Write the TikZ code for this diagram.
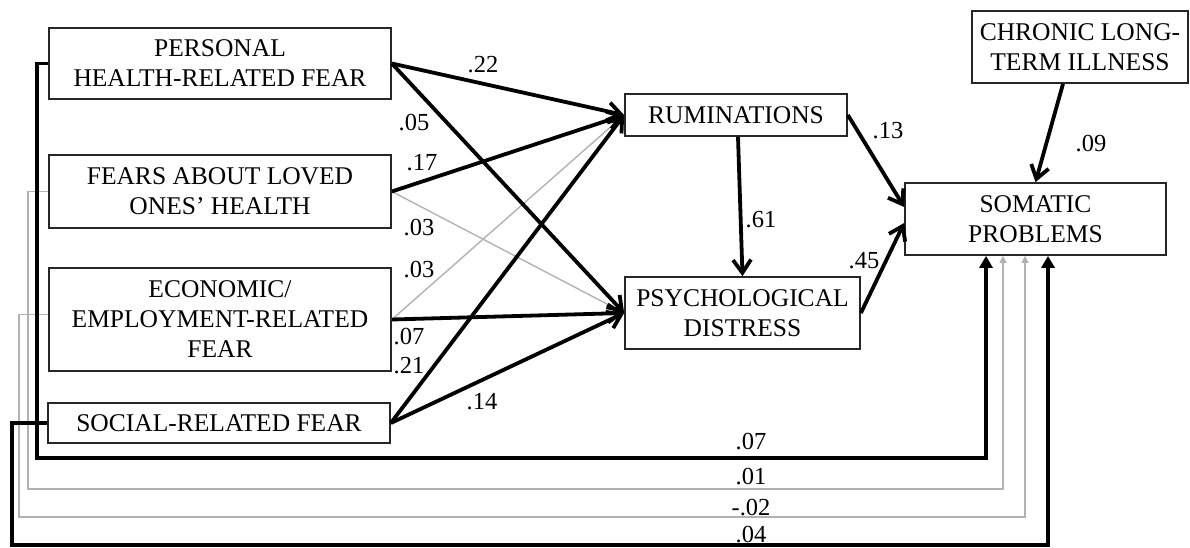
\documentclass[tikz,border=0pt]{standalone}
\usepackage{fontspec}
\setmainfont{Liberation Serif}
\usetikzlibrary{arrows.meta,calc}
\begin{document}
\begin{tikzpicture}[x=1pt,y=-1pt,
  box/.style={draw=black!85, line width=1.7pt, inner sep=0pt, align=center,
    font=\fontsize{25.5}{30}\selectfont},
  thk/.style={line width=3.8pt, draw=black},
  gry/.style={line width=1.4pt, draw=black!30},
  bar/.style={-{Straight Barb[length=13pt,width=18pt]}},
  gbar/.style={-{Straight Barb[length=8pt,width=10pt]}},
  tri/.style={-{Triangle[length=12pt,width=13pt]}},
  gtri/.style={-{Triangle[length=7pt,width=7pt]}},
  lbl/.style={inner sep=0pt, font=\fontsize{24.5}{27}\selectfont}]
\useasboundingbox (0,0) rectangle (1190,547);
% boxes
\node[box, minimum width=342pt, minimum height=71pt] (p1) at (220,63.5) {PERSONAL\\HEALTH-RELATED FEAR};
\node[box, minimum width=342pt, minimum height=73pt] (p2) at (220,191.5) {FEARS ABOUT LOVED\\ONES’ HEALTH};
\node[box, minimum width=342pt, minimum height=103pt] (p3) at (220,319.5) {ECONOMIC/\\EMPLOYMENT-RELATED\\FEAR};
\node[box, minimum width=342pt, minimum height=40pt] (p4) at (219,423) {SOCIAL-RELATED FEAR};
\node[box, minimum width=222pt, minimum height=42pt] (rum) at (736,115) {RUMINATIONS};
\node[box, minimum width=235pt, minimum height=72pt] (psy) at (742.5,313) {PSYCHOLOGICAL\\DISTRESS};
\node[box, minimum width=216pt, minimum height=72pt] (chr) at (1080,47) {CHRONIC LONG-\\TERM ILLNESS};
\node[box, minimum width=261pt, minimum height=72pt] (som) at (1035.5,219) {SOMATIC\\PROBLEMS};
% bottom corner coordinates
\coordinate (b1) at (986,458);
\coordinate (b2) at (1003,489);
\coordinate (b3) at (1025,517);
\coordinate (b4) at (1048,545);
% gray connectors
\draw[gry, gbar] (p2.east) -- (psy.west);
\draw[gry, gbar] (p3.east) -- (rum.west);
\draw[gry, gtri] (p2.west) -- ++(-20,0) |- (b2) -- (b2 |- som.south);
\draw[gry, gtri] ($(p3.west)+(0,-5)$) -- ++(-29,0) |- (b3) -- (b3 |- som.south);
% thick connectors
\draw[thk, bar] (p1.east) -- (rum.west);
\draw[thk, bar] (p1.east) -- (psy.west);
\draw[thk, bar] (p2.east) -- (rum.west);
\draw[thk, bar] (p3.east) -- (psy.west);
\draw[thk, bar] (p4.east) -- (rum.west);
\draw[thk, bar] (p4.east) -- (psy.west);
\draw[thk, bar] ($(rum.south)+(2,0)$) -- (psy.north);
\draw[thk, bar] (rum.east) -- ($(som.west)+(0,-12)$);
\draw[thk, bar] (psy.east) -- ($(som.west)+(0,4)$);
\draw[thk, bar] ($(chr.south)+(-17,0)$) -- (som.north);
\draw[thk, tri] (p1.west) -- ++(-11,0) |- (b1) -- (b1 |- som.south);
\draw[thk, tri] (p4.west) -- ++(-35,0) |- (b4) -- (b4 |- som.south);
% labels
\node[lbl] (l1) at (483,65) {.22};
\node[lbl] (l2) at (414,123) {.05};
\node[lbl] (l3) at (422,163) {.17};
\node[lbl] (l4) at (419,228) {.03};
\node[lbl] (l5) at (419,270) {.03};
\node[lbl] (l6) at (409,337) {.07};
\node[lbl] (l7) at (409,366) {.21};
\node[lbl] (l8) at (482,402) {.14};
\node[lbl] (l9) at (761,220) {.61};
\node[lbl] (l10) at (888,131) {.13};
\node[lbl] (l11) at (864,261) {.45};
\node[lbl] (l12) at (1091,144) {.09};
\node[lbl] (l13) at (751,442) {.07};
\node[lbl] (l14) at (751,477) {.01};
\node[lbl] (l15) at (751,508) {-.02};
\node[lbl] (l16) at (751,535) {.04};
\end{tikzpicture}
\end{document}
